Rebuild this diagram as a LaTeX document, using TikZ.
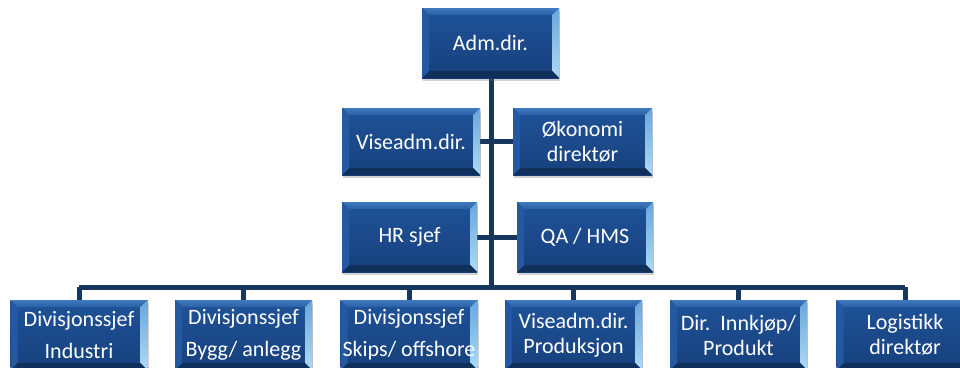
\documentclass[tikz,border=0pt]{standalone}
\usepackage{fontspec}
\setmainfont{Carlito}
\usetikzlibrary{calc,shadows}
\definecolor{linecol}{HTML}{17375E}
\definecolor{boxtopc}{HTML}{1F5399}
\definecolor{boxbotc}{HTML}{17407C}
\definecolor{bevtopA}{HTML}{4079BF}
\definecolor{bevtopB}{HTML}{2960A6}
\definecolor{bevleft}{HTML}{2458A0}
\definecolor{bevbot}{HTML}{10305C}
\definecolor{bevrtA}{HTML}{6AA6DA}
\definecolor{bevrtB}{HTML}{AEDAF4}
\newcommand\orgfont{\fontsize{22}{25}\selectfont}
\tikzset{
  orgbox/.style={minimum width=137pt, minimum height=70pt, inner sep=0pt,
    align=center, text=white, font=\orgfont, fill=boxbotc,
    drop shadow={shadow xshift=1pt, shadow yshift=-3pt, opacity=0.3, fill=black!60},
    path picture={
      \coordinate (pnw) at (path picture bounding box.north west);
      \coordinate (pne) at (path picture bounding box.north east);
      \coordinate (psw) at (path picture bounding box.south west);
      \coordinate (pse) at (path picture bounding box.south east);
      \shade[top color=boxtopc, bottom color=boxbotc] (pnw) rectangle (pse);
      \shade[top color=bevtopA, bottom color=bevtopB] (pnw) -- (pne) -- ($(pne)+(-7pt,-7pt)$) -- ($(pnw)+(7pt,-7pt)$) -- cycle;
      \shade[top color=bevrtA, bottom color=bevrtB] (pne) -- (pse) -- ($(pse)+(-7pt,7pt)$) -- ($(pne)+(-7pt,-7pt)$) -- cycle;
      \fill[bevbot] (pse) -- (psw) -- ($(psw)+(7pt,7pt)$) -- ($(pse)+(-7pt,7pt)$) -- cycle;
      \fill[bevleft] (psw) -- (pnw) -- ($(pnw)+(7pt,-7pt)$) -- ($(psw)+(7pt,7pt)$) -- cycle;
    }},
  conn/.style={draw=linecol, line width=5pt},
}
\begin{document}
\begin{tikzpicture}[x=1pt,y=-1pt]
\useasboundingbox (0,0) rectangle (960,367);
\clip (0,0) rectangle (960,367);
% connectors
\coordinate (tbot) at (491,287);
\coordinate (busL) at (79,287);
\coordinate (busR) at (905,287);
\draw[conn] (491,70) -- (tbot);
\draw[conn] (busL) -- (busR);
\draw[conn] (411,141) -- (582,141);
\draw[conn] (409,237) -- (585,237);
\foreach \xx in {79,243.5,409,573.5,738.5,905} \draw[conn] (\xx,287) -- (\xx,305);
% boxes
\node[orgbox] (adm) at (490.5,43) {Adm.dir.};
\node[orgbox, minimum width=138pt, minimum height=67pt] (vise) at (411,141.5) {Viseadm.dir.};
\node[orgbox, minimum width=139pt, minimum height=67pt] (okon) at (582.5,141.5) {Økonomi\\direktør};
\node[orgbox, minimum width=135pt] (hr) at (409.5,237) {HR sjef};
\node[orgbox, minimum width=136pt] (qa) at (585,237) {QA / HMS};
\node[orgbox] (b1) at (79,335) {Divisjonssjef\\[7pt]Industri};
\node[orgbox] (b2) at (243.5,335) {Divisjonssjef\\[7pt]Bygg/ anlegg};
\node[orgbox] (b3) at (409,335) {Divisjonssjef\\[7pt]Skips/ offshore};
\node[orgbox] (b4) at (573.5,335) {Viseadm.dir.\\Produksjon};
\node[orgbox] (b5) at (738.5,335) {Dir.\ \ Innkjøp/\\Produkt};
\node[orgbox] (b6) at (905,335) {Logistikk\\direktør};
\end{tikzpicture}
\end{document}
